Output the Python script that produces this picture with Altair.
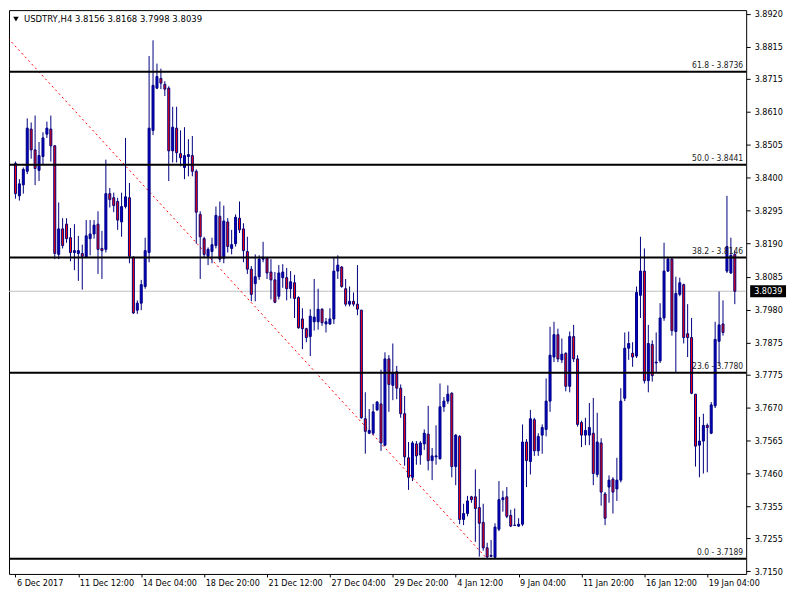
import altair as alt
import pandas as pd

# ---- candle data (H4 bars, index = bar number) ----
opens = [3.8445,3.8342,3.8377,3.8420,3.8554,3.8488,3.8423,3.8467,3.8538,3.8554,
         3.8501,3.8156,3.8237,3.8252,3.8209,3.8162,3.8159,3.8159,3.8147,3.8206,
         3.8221,3.8252,3.8175,3.8172,3.8349,3.8336,3.8324,3.8259,3.8308,3.8336,
         3.8147,3.7979,3.8001,3.8054,3.8162,3.8550,3.8684,3.8715,3.8696,3.8684,
         3.8485,3.8557,3.8476,3.8432,3.8467,3.8470,3.8420,3.8283,3.8206,3.8150,
         3.8165,3.8184,3.8277,3.8144,3.8259,3.8175,3.8190,3.8271,3.8237,3.8165,
         3.8109,3.8063,3.8085,3.8141,3.8144,3.8100,3.8075,3.8023,3.8082,3.8082,
         3.8047,3.8066,3.8019,3.7951,3.7920,3.7895,3.7942,3.7942,3.7982,3.7935,
         3.7935,3.7951,3.8103,3.8116,3.8047,3.7998,3.8007,3.7998,3.7979,3.7634,
         3.7588,3.7588,3.7662,3.7681,3.7550,3.7824,3.7740,3.7783,3.7731,3.7650,
         3.7510,3.7448,3.7554,3.7519,3.7554,3.7585,3.7501,3.7513,3.7507,3.7672,
         3.7690,3.7715,3.7482,3.7578,3.7314,3.7333,3.7386,3.7386,3.7352,3.7305,
         3.7224,3.7200,3.7194,3.7283,3.7377,3.7386,3.7327,3.7296,3.7293,3.7299,
         3.7560,3.7498,3.7631,3.7532,3.7582,3.7600,3.7690,3.7830,3.7901,3.7821,
         3.7842,3.7737,3.7895,3.7824,3.7622,3.7582,3.7582,3.7588,3.7457,3.7557,
         3.7395,3.7417,3.7442,3.7411,3.7439,3.7699,3.7858,3.7842,3.7833,3.8026,
         3.8103,3.7755,3.7870,3.7811,3.7818,3.7954,3.8103,3.8141,3.7911,3.8029,
         3.8060,3.7904,3.7892,3.7712,3.7550,3.7563,3.7613,3.7588,3.7675,3.7880,
         3.7935,3.8103,3.8097,3.8156]
highs = [3.8451,3.8395,3.8432,3.8588,3.8575,3.8597,3.8513,3.8544,3.8578,3.8597,
         3.8503,3.8321,3.8271,3.8271,3.8240,3.8252,3.8215,3.8187,3.8265,3.8265,
         3.8265,3.8293,3.8231,3.8457,3.8367,3.8352,3.8336,3.8352,3.8526,3.8383,
         3.8150,3.8010,3.8075,3.8209,3.8786,3.8836,3.8762,3.8746,3.8706,3.8690,
         3.8625,3.8625,3.8550,3.8560,3.8522,3.8532,3.8426,3.8293,3.8212,3.8178,
         3.8209,3.8308,3.8324,3.8311,3.8271,3.8234,3.8283,3.8324,3.8255,3.8212,
         3.8119,3.8156,3.8153,3.8196,3.8147,3.8141,3.8100,3.8122,3.8125,3.8113,
         3.8103,3.8091,3.8023,3.7985,3.7923,3.7982,3.8078,3.8047,3.7985,3.7954,
         3.7985,3.8147,3.8153,3.8119,3.8078,3.8054,3.8035,3.8122,3.7979,3.7718,
         3.7665,3.7681,3.7690,3.7790,3.7845,3.7836,3.7873,3.7802,3.7743,3.7706,
         3.7560,3.7563,3.7563,3.7563,3.7600,3.7675,3.7541,3.7613,3.7746,3.7703,
         3.7740,3.7718,3.7585,3.7582,3.7364,3.7389,3.7389,3.7473,3.7411,3.7364,
         3.7240,3.7249,3.7302,3.7436,3.7405,3.7417,3.7345,3.7349,3.7318,3.7616,
         3.7569,3.7662,3.7637,3.7588,3.7616,3.7762,3.7926,3.7942,3.7920,3.7889,
         3.7845,3.7911,3.7932,3.7836,3.7628,3.7637,3.7684,3.7700,3.7653,3.7572,
         3.7401,3.7454,3.7448,3.7510,3.7731,3.7908,3.7911,3.7877,3.8054,3.8212,
         3.8175,3.7932,3.7883,3.7908,3.8001,3.8193,3.8147,3.8147,3.8085,3.8082,
         3.8063,3.7998,3.7954,3.7712,3.7640,3.7650,3.7619,3.7687,3.7942,3.8038,
         3.8010,3.8342,3.8209,3.8168]
lows = [3.8333,3.8327,3.8349,3.8411,3.8460,3.8376,3.8389,3.8442,3.8526,3.8451,
        3.8141,3.8141,3.8175,3.8193,3.8134,3.8106,3.8072,3.8044,3.8144,3.8153,
        3.8206,3.8094,3.8078,3.8162,3.8305,3.8290,3.8234,3.8212,3.8302,3.8128,
        3.7967,3.7967,3.7979,3.8047,3.8131,3.8535,3.8681,3.8681,3.8659,3.8389,
        3.8448,3.8448,3.8436,3.8395,3.8404,3.8404,3.8190,3.8078,3.8147,3.8122,
        3.8128,3.8175,3.8131,3.8128,3.8162,3.8156,3.8181,3.8224,3.8131,3.8094,
        3.8007,3.8007,3.8075,3.8131,3.8078,3.8013,3.8001,3.8013,3.8050,3.8010,
        3.8016,3.7954,3.7920,3.7855,3.7877,3.7833,3.7914,3.7917,3.7929,3.7908,
        3.7932,3.7935,3.8078,3.8050,3.7991,3.7991,3.7991,3.7963,3.7634,3.7523,
        3.7585,3.7582,3.7659,3.7532,3.7547,3.7656,3.7693,3.7696,3.7637,3.7485,
        3.7408,3.7436,3.7488,3.7488,3.7535,3.7470,3.7439,3.7488,3.7504,3.7656,
        3.7681,3.7448,3.7423,3.7299,3.7296,3.7324,3.7367,3.7243,3.7196,3.7215,
        3.7189,3.7194,3.7191,3.7277,3.7339,3.7318,3.7290,3.7293,3.7290,3.7293,
        3.7417,3.7457,3.7516,3.7516,3.7523,3.7578,3.7656,3.7814,3.7814,3.7811,
        3.7721,3.7718,3.7814,3.7609,3.7544,3.7550,3.7550,3.7423,3.7448,3.7358,
        3.7296,3.7367,3.7333,3.7373,3.7432,3.7690,3.7821,3.7799,3.7827,3.7954,
        3.7746,3.7718,3.7752,3.7780,3.7811,3.7945,3.8100,3.7898,3.7780,3.8023,
        3.7873,3.7830,3.7712,3.7482,3.7448,3.7460,3.7464,3.7585,3.7668,3.7805,
        3.7898,3.8097,3.8094,3.7998]
closes = [3.8349,3.8380,3.8426,3.8557,3.8488,3.8429,3.8470,3.8526,3.8557,3.8501,
          3.8159,3.8237,3.8184,3.8206,3.8162,3.8168,3.8168,3.8150,3.8215,3.8221,
          3.8249,3.8172,3.8168,3.8349,3.8330,3.8311,3.8265,3.8308,3.8339,3.8150,
          3.7970,3.8001,3.8060,3.8168,3.8557,3.8693,3.8721,3.8700,3.8681,3.8485,
          3.8560,3.8479,3.8463,3.8470,3.8473,3.8420,3.8290,3.8212,3.8156,3.8172,
          3.8187,3.8280,3.8141,3.8262,3.8181,3.8187,3.8274,3.8234,3.8168,3.8109,
          3.8029,3.8085,3.8141,3.8147,3.8097,3.8075,3.8004,3.8097,3.8100,3.8047,
          3.8069,3.8016,3.7923,3.7920,3.7892,3.7960,3.7957,3.7982,3.7939,3.7942,
          3.7951,3.8103,3.8122,3.8054,3.7998,3.8007,3.7998,3.7982,3.7637,3.7594,
          3.7597,3.7656,3.7687,3.7557,3.7824,3.7743,3.7780,3.7731,3.7650,3.7513,
          3.7448,3.7557,3.7516,3.7557,3.7588,3.7501,3.7516,3.7516,3.7672,3.7690,
          3.7712,3.7482,3.7582,3.7314,3.7333,3.7373,3.7377,3.7349,3.7302,3.7224,
          3.7195,3.7197,3.7290,3.7377,3.7383,3.7324,3.7293,3.7295,3.7299,3.7560,
          3.7501,3.7634,3.7532,3.7578,3.7606,3.7690,3.7836,3.7901,3.7824,3.7839,
          3.7737,3.7895,3.7824,3.7616,3.7582,3.7597,3.7606,3.7460,3.7560,3.7401,
          3.7318,3.7439,3.7401,3.7439,3.7690,3.7858,3.7873,3.7830,3.8035,3.8103,
          3.7755,3.7873,3.7771,3.7814,3.7954,3.8103,3.8141,3.7914,3.8032,3.8066,
          3.7892,3.7892,3.7715,3.7547,3.7563,3.7613,3.7606,3.7678,3.7886,3.7932,
          3.7908,3.8181,3.8153,3.8039]

# ---- axis ticks / labels ----
x_tick_bars = [0, 16, 32, 48, 64, 80, 96, 112, 128, 144, 160, 176]
x_tick_labels = ["6 Dec 2017", "11 Dec 12:00", "14 Dec 04:00", "18 Dec 20:00",
                 "21 Dec 12:00", "27 Dec 04:00", "29 Dec 20:00", "4 Jan 12:00",
                 "9 Jan 04:00", "11 Jan 20:00", "16 Jan 12:00", "19 Jan 04:00"]
y_ticks = [3.8920, 3.8815, 3.8715, 3.8610, 3.8505, 3.8400, 3.8295, 3.8190, 3.8085,
           3.7980, 3.7875, 3.7775, 3.7670, 3.7565, 3.7460, 3.7355, 3.7255, 3.7150]

# ---- fibonacci retracement ----
fib_levels = [0.0, 23.6, 38.2, 50.0, 61.8]
fib_prices = [3.7189, 3.7780, 3.8146, 3.8441, 3.8736]
trend_bars = [-64.5, 120]
trend_prices = [3.9692, 3.7189]
last_price = 3.8039
title_text = "USDTRY,H4  3.8156 3.8168 3.7998 3.8039"

FONT = "Tahoma, 'DejaVu Sans Condensed', 'Liberation Sans', sans-serif"
NAVY = "#000080"

candles = pd.DataFrame({"i": list(range(len(opens))), "o": opens, "h": highs,
                        "l": lows, "c": closes})
candles["dir"] = ["up" if c >= o else "down" for o, c in zip(opens, closes)]
fib = pd.DataFrame({"price": fib_prices,
                    "label": [f"{lv:.1f} - {p:.4f}" for lv, p in zip(fib_levels, fib_prices)]})
trend = pd.DataFrame({"i": trend_bars, "price": trend_prices})
last = pd.DataFrame({"price": [last_price], "label": [f"{last_price:.4f}"]})

label_array = "[" + ",".join(f"'{s}'" for s in x_tick_labels) + "]"
x_scale = alt.Scale(domain=[-0.375, 184.625], nice=False, zero=False)
y_scale = alt.Scale(domain=[3.7141, 3.8932], nice=False, zero=False)
x_axis = alt.Axis(values=x_tick_bars, labelExpr=f"{label_array}[round(datum.value/16)]",
                  labelAlign="left", labelFlush=False, labelOverlap=False, labelBound=False,
                  tickSize=3, labelPadding=2, labelOffset=1, domain=False, grid=False,
                  title=None, labelFont=FONT, labelFontSize=9, labelColor="black",
                  tickColor="black")
y_axis = alt.Axis(values=y_ticks, format=".4f", orient="right", labelFlush=False,
                  labelOverlap=False, tickSize=4, labelPadding=4, domain=False, grid=False,
                  title=None, labelFont=FONT, labelFontSize=9, labelColor="black",
                  tickColor="black", labelBaseline="middle")

def X(field):
    return alt.X(field, type="quantitative", scale=x_scale, axis=x_axis)

def Y(field):
    return alt.Y(field, type="quantitative", scale=y_scale, axis=y_axis)

price_line = alt.Chart(last).mark_rule(color="#C0C0C0", strokeWidth=1).encode(y=Y("price"))

trend_line = alt.Chart(trend).mark_line(color="#FF0000", strokeDash=[2, 3], strokeWidth=1,
                                        clip=True).encode(x=X("i"), y=Y("price"))

wicks = alt.Chart(candles).mark_rule(color=NAVY, strokeWidth=1).encode(
    x=X("i"), y=Y("l"), y2="h")

bodies = alt.Chart(candles).mark_bar(size=2, stroke=NAVY, strokeWidth=1).encode(
    x=X("i"), y=Y("o"), y2="c",
    fill=alt.Fill("dir:N", scale=alt.Scale(domain=["up", "down"], range=["#0000CC", "#FF0000"]),
                  legend=None))

fib_lines = alt.Chart(fib).mark_rule(color="black", strokeWidth=2).encode(y=Y("price"))

fib_text = alt.Chart(fib).mark_text(align="right", baseline="bottom", dy=-2, font=FONT,
                                    fontSize=8.5, color="#1a1a1a").encode(
    x=alt.value(737), y=Y("price"), text="label:N")

title_mark = alt.Chart(last).mark_text(align="left", baseline="middle", font=FONT,
                                       fontSize=9.5, color="black").encode(
    x=alt.value(15), y=alt.value(9), text=alt.value(title_text))

title_tri = alt.Chart(last).mark_point(shape="triangle-down", filled=True, color="black",
                                       size=30, opacity=1).encode(
    x=alt.value(7), y=alt.value(9))

price_box = alt.Chart(last).mark_rule(color="black", strokeWidth=12).encode(
    x=alt.value(744), x2=alt.value(780), y=Y("price"))

price_box_text = alt.Chart(last).mark_text(align="left", baseline="middle", font=FONT,
                                           fontSize=9, color="white").encode(
    x=alt.value(748), y=Y("price"), text="label:N")

chart = alt.layer(price_line, trend_line, wicks, bodies, fib_lines, fib_text,
                  title_mark, title_tri, price_box, price_box_text).properties(
    width=740, height=566, padding=0, background="white"
).configure_view(stroke="black", strokeWidth=1)

chart.save("out.html", embed_options={"renderer": "svg", "actions": False})
